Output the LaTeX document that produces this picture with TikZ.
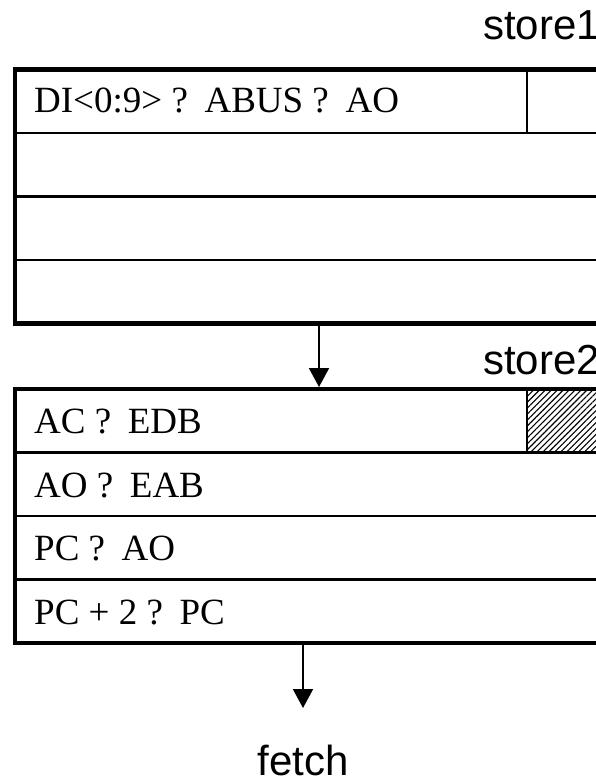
\documentclass[tikz,border=0pt]{standalone}
\usepackage{fontspec}
\setmainfont{Liberation Serif}
\newfontfamily\labelfont{Liberation Sans}
\usetikzlibrary{arrows.meta,patterns.meta}
\tikzset{
  frame/.style={draw=black, line width=4.5pt, inner sep=0pt, outer sep=0pt, anchor=north west, minimum width=640pt, minimum height=254pt},
  rowline/.style={draw=black, line width=2.6pt},
  divline/.style={draw=black, line width=1.8pt},
  rowtext/.style={anchor=base west, inner sep=0pt, font=\fontsize{37}{42}\selectfont},
  lbl/.style={anchor=base west, inner sep=0pt, text depth=0pt, font=\labelfont\fontsize{42}{48}\selectfont},
  conn/.style={draw=black, line width=2pt, -{Triangle[width=20pt,length=19pt]}},
  hatch/.style={pattern={Lines[angle=45, distance=4.2pt, line width=1.1pt]}, draw=black, line width=1.5pt}
}
\newcommand{\qq}{\ ?\hspace{0.45em}}
\begin{document}
\begin{tikzpicture}[x=1pt,y=-1pt]
\useasboundingbox (0,0) rectangle (596,781);
\clip (0,0) rectangle (596,781);
% labels
\node[lbl] (s1) at (483,40) {store1};
\node[lbl] (s2) at (483,374) {store2};
% box 1
\draw[divline] (527,69.5) -- (527,133);
\draw[rowline] (15,133) -- (640,133);
\draw[rowline] (15,196.5) -- (640,196.5);
\draw[rowline] (15,260) -- (640,260);
\node[frame] (box1) at (15,69.5) {};
\node[rowtext] (t11) at (34,113) {DI<0:9>\qq ABUS\qq AO};
% box 2
\path[hatch] (527,389) rectangle (660,452.5);
\draw[rowline] (15,452.5) -- (640,452.5);
\draw[rowline] (15,516) -- (640,516);
\draw[rowline] (15,579.5) -- (640,579.5);
\node[frame] (box2) at (15,389) {};
\node[rowtext] (t21) at (34,433) {AC\qq EDB};
\node[rowtext] (t22) at (34,497) {AO\qq EAB};
\node[rowtext] (t23) at (34,560) {PC\qq AO};
\node[rowtext] (t24) at (34,624) {PC + 2\qq PC};
% fetch
\node[lbl, anchor=base] (f) at (303,775) {fetch};
% connectors
\coordinate (a1s) at (319,323.5);
\coordinate (a1e) at (319,387);
\coordinate (a2s) at (303,643);
\coordinate (a2e) at (303,708);
\draw[conn] (a1s) -- (a1e);
\draw[conn] (a2s) -- (a2e);
\end{tikzpicture}
\end{document}
